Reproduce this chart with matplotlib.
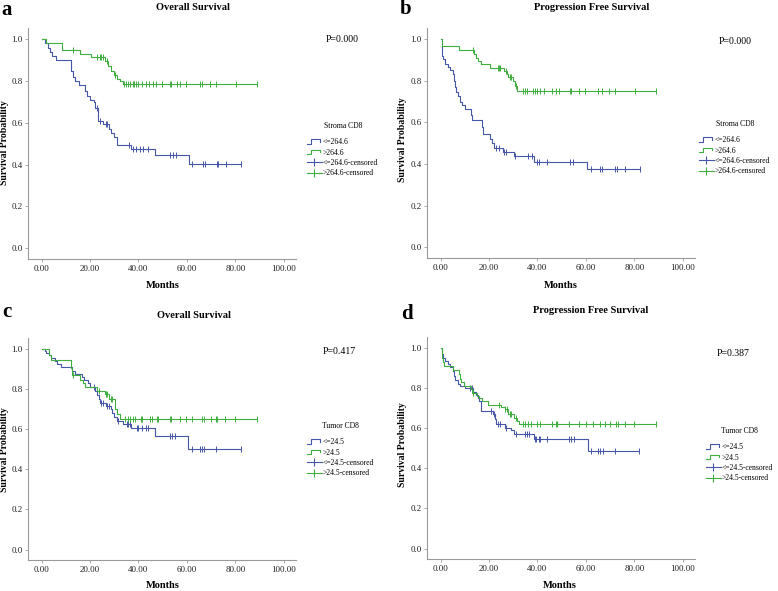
import numpy as np
import matplotlib
matplotlib.use('Agg')
import matplotlib.pyplot as plt
from matplotlib.lines import Line2D
from matplotlib.legend_handler import HandlerBase

plt.rcParams['font.family'] = ['Liberation Serif', 'DejaVu Serif']

BLUE = '#4657a8'
GREEN = '#3fae3f'

# ---- panel a: Overall Survival, Stroma CD8 ----
a_low_t = [1.5, 2.5, 3.5, 4.5, 6.0, 12.0, 13.0, 14.0, 15.5, 18.0, 18.8, 20.0, 21.5, 22.2, 23.2,
           25.5, 27.8, 28.8, 30.0, 31.0, 37.0, 47.0, 61.0]
a_low_s = [0.98, 0.96, 0.94, 0.92, 0.90, 0.85, 0.82, 0.80, 0.78, 0.75, 0.73, 0.71, 0.70, 0.67, 0.61,
           0.595, 0.57, 0.55, 0.53, 0.494, 0.473, 0.446, 0.403]
a_low_c = [22.7, 24.2, 26.5, 27.2, 36.2, 37.8, 38.9, 40.6, 41.7, 44.0, 53.2, 54.3, 55.3,
           61.9, 66.7, 67.3, 72.2, 72.9, 76.0, 82.5]
a_high_t = [2.0, 8.5, 15.8, 20.6, 26.3, 27.5, 28.5, 29.7, 31.0, 32.5, 33.8]
a_high_s = [0.984, 0.95, 0.93, 0.915, 0.895, 0.87, 0.85, 0.83, 0.81, 0.80, 0.785]
a_high_c = [12.8, 23.0, 24.0, 24.5, 25.2, 27.0, 30.3, 34.0, 34.7, 35.5, 36.5, 37.8, 38.2, 38.9,
            39.9, 41.3, 43.0, 44.4, 45.8, 47.4, 49.5, 52.9, 53.6, 56.0, 57.0, 59.8, 65.3, 66.4,
            69.5, 72.0, 80.2, 89.1]

# ---- panel b: Progression Free Survival, Stroma CD8 ----
b_low_t = [0.4, 0.7, 1.0, 2.0, 3.0, 4.0, 5.0, 5.5, 6.0, 6.5, 7.0, 8.0, 9.0, 10.0, 12.5, 13.0,
           17.0, 17.5, 20.5, 21.3, 22.0, 25.8, 30.5, 38.7, 60.4]
b_low_s = [0.95, 0.92, 0.904, 0.88, 0.865, 0.85, 0.832, 0.80, 0.768, 0.745, 0.726, 0.70, 0.683,
           0.666, 0.635, 0.614, 0.58, 0.542, 0.52, 0.50, 0.478, 0.459, 0.438, 0.411, 0.374]
b_low_c = [22.7, 24.0, 26.1, 27.2, 30.9, 36.0, 37.8, 39.6, 40.5, 44.0, 53.3, 54.7,
           62.1, 65.9, 66.6, 72.1, 72.8, 76.2, 82.1]
b_high_t = [0.6, 7.8, 13.8, 14.5, 15.5, 16.5, 20.3, 26.3, 27.5, 28.0, 30.0, 30.6, 31.5]
b_high_s = [0.968, 0.95, 0.93, 0.91, 0.895, 0.88, 0.864, 0.845, 0.835, 0.82, 0.80, 0.775, 0.752]
b_high_c = [13.2, 23.5, 24.0, 24.6, 27.0, 28.5, 29.0, 31.0, 34.1, 35.0, 35.7, 38.2, 39.1, 39.8,
            40.9, 42.8, 46.0, 47.8, 48.8, 53.3, 53.8, 57.0, 59.7, 64.8, 66.6, 69.4, 71.8,
            80.1, 89.0]

# ---- panel c: Overall Survival, Tumor CD8 ----
c_low_t = [1.5, 2.0, 3.0, 4.0, 5.5, 6.5, 8.0, 12.5, 14.0, 16.5, 17.5, 19.0, 20.0, 22.0, 23.0,
           23.5, 24.0, 26.5, 28.5, 29.0, 30.0, 31.0, 33.5, 37.0, 47.0, 60.5]
c_low_s = [0.99, 0.98, 0.97, 0.955, 0.94, 0.925, 0.912, 0.89, 0.875, 0.86, 0.845, 0.83, 0.81,
           0.79, 0.77, 0.75, 0.732, 0.715, 0.70, 0.68, 0.66, 0.642, 0.626, 0.604, 0.566, 0.499]
c_low_c = [21.5, 24.5, 25.2, 27.0, 28.0, 31.6, 35.1, 35.7, 36.4, 39.2, 39.9, 41.3, 43.3, 44.0,
           53.0, 53.7, 55.0, 61.9, 65.3, 66.3, 67.1, 71.8, 82.1]
c_high_t = [3.2, 4.0, 12.0, 12.6, 16.0, 17.0, 18.0, 23.0, 26.0, 28.0, 30.5, 31.0, 32.5]
c_high_s = [0.97, 0.945, 0.905, 0.87, 0.845, 0.83, 0.81, 0.79, 0.774, 0.749, 0.70, 0.674, 0.65]
c_high_c = [13.0, 23.5, 26.5, 27.2, 28.6, 29.2, 34.4, 35.5, 36.4, 37.8, 38.5, 41.0, 41.5, 44.7,
            45.6, 47.5, 48.1, 53.0, 53.6, 57.1, 59.8, 61.9, 66.3, 67.1, 69.9, 71.8, 72.6,
            75.9, 79.8, 89.1]

# ---- panel d: Progression Free Survival, Tumor CD8 ----
d_low_t = [0.4, 1.0, 2.0, 3.0, 4.0, 5.0, 5.5, 6.0, 7.0, 8.0, 10.0, 13.5, 14.5, 15.5, 16.0, 16.8,
           21.5, 22.5, 23.0, 26.5, 29.0, 30.5, 38.5, 61.0]
d_low_s = [0.97, 0.95, 0.935, 0.92, 0.905, 0.885, 0.86, 0.84, 0.818, 0.81, 0.80, 0.78, 0.765,
           0.75, 0.735, 0.686, 0.669, 0.645, 0.623, 0.603, 0.59, 0.57, 0.545, 0.484]
d_low_c = [12.0, 13.0, 21.0, 22.0, 23.5, 24.5, 27.0, 31.0, 35.0, 35.5, 36.5, 39.0, 39.5, 40.5,
           41.0, 44.0, 53.0, 54.0, 55.0, 62.0, 65.0, 66.0, 67.0, 72.0, 82.0]
d_high_t = [0.6, 1.0, 1.5, 5.0, 7.5, 8.0, 8.5, 9.5, 12.5, 13.0, 15.0, 16.0, 17.0, 19.5, 25.0,
            26.5, 28.0, 30.5, 31.5, 32.5]
d_high_s = [0.95, 0.93, 0.909, 0.888, 0.868, 0.845, 0.83, 0.81, 0.795, 0.777, 0.76, 0.75, 0.736,
            0.716, 0.705, 0.694, 0.669, 0.65, 0.635, 0.62]
d_high_c = [13.2, 24.0, 26.7, 27.5, 28.5, 29.2, 31.0, 34.0, 35.0, 36.0, 37.5, 40.0, 41.0, 46.0,
            47.5, 48.2, 53.0, 57.0, 60.0, 63.0, 66.0, 68.0, 70.0, 72.5, 73.2, 76.0, 80.0, 89.0]

panels = [
    dict(letter='a', title='Overall Survival', p='P=0.000', group='Stroma CD8', cut='264.6',
         low=(a_low_t, a_low_s, a_low_c), high=(a_high_t, a_high_s, a_high_c)),
    dict(letter='b', title='Progression Free Survival', p='P=0.000', group='Stroma CD8', cut='264.6',
         low=(b_low_t, b_low_s, b_low_c), high=(b_high_t, b_high_s, b_high_c)),
    dict(letter='c', title='Overall Survival', p='P=0.417', group='Tumor CD8', cut='24.5',
         low=(c_low_t, c_low_s, c_low_c), high=(c_high_t, c_high_s, c_high_c)),
    dict(letter='d', title='Progression Free Survival', p='P=0.387', group='Tumor CD8', cut='24.5',
         low=(d_low_t, d_low_s, d_low_c), high=(d_high_t, d_high_s, d_high_c)),
]

# layout in pixels of the 778x591 canvas
W, H = 778, 591
boxes = [(28, 28, 296, 259), (427, 28, 695, 258), (28, 338, 296, 560), (427, 337, 695, 559)]
letter_xy = [(7, 10), (406, 9), (7, 312), (407, 314)]
title_xy = [(193, 8), (592, 8), (194, 315), (591, 311)]
xlabel_xy = [(163, 285), (561, 285), (163, 585), (560, 585)]
ylabel_xy = [(5, 143), (403, 140), (5, 450), (403, 445)]
p_xy = [(342, 40), (735, 42), (339, 352), (733, 353)]
legend_xy = [(307, 122), (699, 120), (307, 422), (706, 427)]


def fx(x):
    return x / W


def fy(y):
    return 1 - y / H


class HandlerStep(HandlerBase):
    # the little step glyph SPSS puts in front of a survival-function entry
    def create_artists(self, legend, orig_handle, xdescent, ydescent, width, height,
                       fontsize, trans):
        xs = np.array([0, 0.3, 0.3, 0.9, 0.9]) * width - xdescent
        ys = np.array([0.05, 0.05, 0.95, 0.95, 0.5]) * height - ydescent
        ln = Line2D(xs, ys, color=orig_handle.get_color(), lw=0.8, transform=trans)
        return [ln]


def km_curve(ax, t, s, c, color):
    t = np.asarray(t)
    s = np.asarray(s)
    xs = np.concatenate([[0], t, [max(c[-1], t[-1])]])
    ys = np.concatenate([[1.0], s, [s[-1]]])
    ax.step(xs, ys, where='post', color=color, lw=0.8)
    # censored cases sit on the curve at their time
    idx = np.searchsorted(t, c, side='right')
    cy = np.concatenate([[1.0], s])[idx]
    ax.plot(c, cy, ls='none', marker='|', ms=4, mew=0.7, color=color)


fig = plt.figure(figsize=(7.78, 5.91), dpi=100)

for i, pn in enumerate(panels):
    l, t_, r, b = boxes[i]
    ax = fig.add_axes([fx(l), fy(b), (r - l) / W, (b - t_) / H])
    km_curve(ax, *pn['low'], BLUE)
    km_curve(ax, *pn['high'], GREEN)
    ax.set_xlim(-5.6, 105)
    ax.set_ylim(-0.052, 1.054)
    ax.set_xticks(np.arange(0, 101, 20))
    ax.set_xticklabels(['%.2f' % v for v in np.arange(0, 101, 20)])
    ax.set_yticks(np.arange(0, 1.01, 0.2))
    ax.set_yticklabels(['%.1f' % v for v in np.arange(0, 1.01, 0.2)])
    for sp in ['top', 'right']:
        ax.spines[sp].set_visible(False)
    for sp in ['left', 'bottom']:
        ax.spines[sp].set_color('#9a9a9a')
        ax.spines[sp].set_linewidth(0.8)
    ax.tick_params(labelsize=6.5, length=2, width=0.6, color='#9a9a9a', pad=2,
                   labelcolor='#222222')

    handles = [Line2D([], [], color=BLUE), Line2D([], [], color=GREEN),
               Line2D([], [], color=BLUE, lw=0.8, marker='|', ms=6, mew=0.8),
               Line2D([], [], color=GREEN, lw=0.8, marker='|', ms=6, mew=0.8)]
    labels = ['<=' + pn['cut'], '>' + pn['cut'],
              '<=' + pn['cut'] + '-censored', '>' + pn['cut'] + '-censored']
    lx, ly = legend_xy[i]
    leg = fig.legend(handles, labels, title=pn['group'], loc='upper left',
                     bbox_to_anchor=(fx(lx), fy(ly)), bbox_transform=fig.transFigure,
                     frameon=False, fontsize=5.5, title_fontsize=5.5, borderpad=0,
                     borderaxespad=0, handlelength=1.9, handletextpad=0.2,
                     labelspacing=0.3,
                     handler_map={handles[0]: HandlerStep(), handles[1]: HandlerStep()})
    leg._legend_box.sep = 6

    fig.text(fx(letter_xy[i][0]), fy(letter_xy[i][1]), pn['letter'],
             fontsize=15, fontweight='bold', ha='center', va='center')
    fig.text(fx(title_xy[i][0]), fy(title_xy[i][1]), pn['title'], fontsize=7.5,
             fontweight='bold', ha='center', va='center')
    fig.text(fx(xlabel_xy[i][0]), fy(xlabel_xy[i][1]), 'Months', fontsize=7.5,
             fontweight='bold', ha='center', va='center')
    fig.text(fx(ylabel_xy[i][0]), fy(ylabel_xy[i][1]), 'Survival Probability', fontsize=7,
             fontweight='bold', ha='center', va='center', rotation=90)
    fig.text(fx(p_xy[i][0]), fy(p_xy[i][1]), pn['p'], fontsize=7, ha='center', va='center')

fig.savefig('out.png', dpi=100)
